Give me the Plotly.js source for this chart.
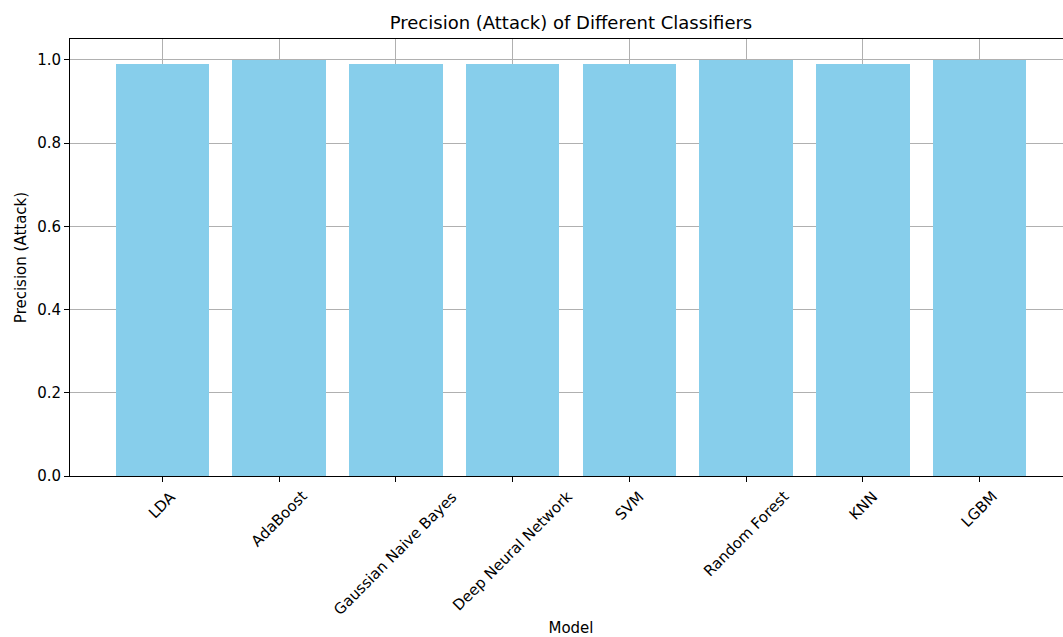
<!DOCTYPE html>
<html>
<head>
<meta charset="utf-8">
<script src="https://cdn.plot.ly/plotly-3.0.1.min.js"></script>
<style>
html, body { margin: 0; padding: 0; overflow: hidden; background: #fff; }
#chart { width: 1080px; height: 637px; }
</style>
</head>
<body>
<div id="chart"></div>
<script>
const models = ["LDA", "AdaBoost", "Gaussian Naive Bayes", "Deep Neural Network", "SVM", "Random Forest", "KNN", "LGBM"];
const precisionAttack = [0.99, 1.0, 0.99, 0.99, 0.99, 1.0, 0.99, 1.0];
const yTickVals = [0.0, 0.2, 0.4, 0.6, 0.8, 1.0];
const yTickText = ["0.0", "0.2", "0.4", "0.6", "0.8", "1.0"];
const chartTitle = "Precision (Attack) of Different Classifiers";
const xTitle = "Model";
const yTitle = "Precision (Attack)";

const FONT = "DejaVu Sans, Verdana, sans-serif";
const FS = 15;

const trace = {
  type: "bar",
  x: models.map((m, i) => i),
  y: precisionAttack,
  width: 0.8,
  marker: { color: "#87CEEB", line: { width: 0 } },
  hoverinfo: "skip"
};

const tickAnnotations = models.map((m, i) => ({
  x: i, y: 0, xref: "x", yref: "y",
  text: m, showarrow: false, textangle: -45,
  xanchor: "center", yanchor: "top", yshift: -9,
  font: { family: FONT, size: FS, color: "#000" }
}));

const layout = {
  width: 1080, height: 637,
  margin: { l: 70, r: 8, t: 39, b: 161 },
  paper_bgcolor: "#fff", plot_bgcolor: "#fff",
  font: { family: FONT, size: FS, color: "#000" },
  title: { text: chartTitle, font: { family: FONT, size: 18, color: "#000" }, x: 0.5, xref: "paper", xanchor: "center", y: 1, yref: "paper", yanchor: "bottom", pad: { b: 10 } },
  showlegend: false,
  bargap: 0,
  xaxis: {
    range: [-0.79, 7.79],
    tickmode: "array", tickvals: models.map((m, i) => i), ticktext: models,
    showticklabels: false,
    ticks: "outside", ticklen: 5, tickwidth: 1, tickcolor: "#000",
    showgrid: true, gridcolor: "#b0b0b0", gridwidth: 1,
    showline: true, linecolor: "#000", linewidth: 1, mirror: true,
    zeroline: false, layer: "above traces", fixedrange: true,
    title: { text: xTitle, font: { family: FONT, size: FS, color: "#000" }, standoff: 142 }
  },
  yaxis: {
    range: [0, 1.05],
    tickmode: "array", tickvals: yTickVals, ticktext: yTickText,
    ticks: "outside", ticklen: 5, tickwidth: 1, tickcolor: "#000",
    tickfont: { family: FONT, size: FS, color: "#000" },
    showgrid: true, gridcolor: "#b0b0b0", gridwidth: 1,
    showline: true, linecolor: "#000", linewidth: 1, mirror: true,
    zeroline: false, layer: "above traces", fixedrange: true,
    title: { text: yTitle, font: { family: FONT, size: FS, color: "#000" }, standoff: 6 }
  },
  annotations: tickAnnotations
};

Plotly.newPlot("chart", [trace], layout, { displayModeBar: false, staticPlot: true });
</script>
</body>
</html>
